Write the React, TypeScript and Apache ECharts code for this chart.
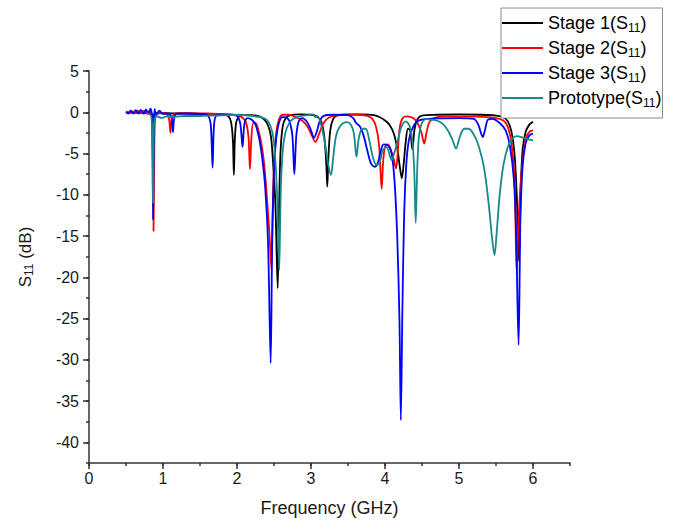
import React, { useEffect, useRef } from 'react';
import * as echarts from 'echarts';

// ---------- data ----------
const seriesNames = ['Stage 1', 'Stage 2', 'Stage 3', 'Prototype'];
const xMajorTicks = [0, 1, 2, 3, 4, 5, 6];
const yMajorTicks = [5, 0, -5, -10, -15, -20, -25, -30, -35, -40];

// [frequency GHz, S11 dB]
const stage1 = [
  [0.5, -0.02], [0.6, -0.05], [0.7, -0.08], [0.8, -0.1], [0.85, -0.25], [0.865, -1.5], [0.875, -0.4],
  [0.9, -0.12], [1.0, -0.12], [1.2, -0.15], [1.4, -0.18], [1.6, -0.2], [1.8, -0.25], [1.88, -0.45],
  [1.92, -1.2], [1.945, -3.5], [1.958, -7.6], [1.97, -3.5], [1.99, -1.2], [2.03, -0.5], [2.1, -0.35],
  [2.2, -0.35], [2.3, -0.5], [2.36, -0.8], [2.42, -1.6], [2.46, -3.0], [2.49, -6.5], [2.52, -11.5],
  [2.55, -21.3], [2.57, -11], [2.59, -4.5], [2.62, -1.6], [2.66, -0.7], [2.72, -0.35], [2.85, -0.25],
  [3.0, -0.3], [3.08, -0.5], [3.14, -1.2], [3.18, -3.0], [3.205, -6], [3.22, -9.0], [3.235, -5.5],
  [3.26, -2.2], [3.3, -0.8], [3.36, -0.35], [3.5, -0.25], [3.7, -0.25], [3.85, -0.35], [3.93, -0.6],
  [4.0, -1.0], [4.06, -1.5], [4.12, -2.6], [4.17, -4.6], [4.2, -6.6], [4.227, -8.0], [4.25, -6.5],
  [4.28, -3.6], [4.31, -2.0], [4.34, -2.2], [4.37, -4.5], [4.4, -2.0], [4.44, -0.8], [4.5, -0.4],
  [4.7, -0.3], [5.0, -0.25], [5.3, -0.3], [5.5, -0.4], [5.6, -0.6], [5.66, -1.1], [5.71, -2.4],
  [5.75, -5], [5.78, -10], [5.81, -18], [5.835, -9], [5.86, -4.5], [5.9, -2.4], [5.95, -1.5], [6.0, -1.15],
];

const stage2 = [
  [0.5, 0.1], [0.54, -0.1], [0.58, 0.15], [0.62, -0.1], [0.66, 0.2], [0.7, -0.1], [0.74, 0.2],
  [0.78, -0.15], [0.82, 0.2], [0.845, -0.3], [0.86, -4], [0.872, -14.4], [0.882, -5], [0.895, -0.6],
  [0.93, -0.1], [1.0, -0.1], [1.06, -0.3], [1.085, -1.0], [1.1, -2.5], [1.115, -1.0], [1.14, -0.3],
  [1.2, -0.1], [1.4, -0.1], [1.6, -0.15], [1.8, -0.2], [1.95, -0.3], [2.05, -0.5], [2.12, -1.2],
  [2.155, -3], [2.175, -6.9], [2.195, -3.0], [2.22, -1.3], [2.25, -1.3], [2.29, -2.2], [2.33, -3.8],
  [2.37, -6.5], [2.41, -11], [2.44, -15], [2.465, -19], [2.48, -13], [2.5, -6.5], [2.53, -2.5],
  [2.57, -0.8], [2.62, -0.3], [2.7, -0.3], [2.8, -0.6], [2.88, -1.0], [2.95, -1.7], [3.01, -2.8],
  [3.06, -3.6], [3.11, -2.6], [3.17, -1.3], [3.25, -0.6], [3.4, -0.35], [3.6, -0.3], [3.75, -0.4],
  [3.83, -0.8], [3.88, -1.8], [3.92, -4], [3.955, -9.3], [3.975, -6], [4.0, -4.2], [4.04, -3.9],
  [4.08, -4.6], [4.12, -5.8], [4.15, -6.8], [4.175, -4.5], [4.2, -1.8], [4.24, -0.7], [4.3, -0.5],
  [4.38, -0.7], [4.44, -1.3], [4.49, -2.4], [4.53, -3.8], [4.56, -2.5], [4.6, -1.2], [4.66, -0.7],
  [4.8, -0.5], [5.0, -0.5], [5.3, -0.55], [5.5, -0.7], [5.6, -1.0], [5.66, -1.8], [5.71, -3.8],
  [5.75, -8], [5.78, -19.5], [5.8, -14], [5.83, -9], [5.87, -5], [5.91, -3], [5.96, -2.3], [6.0, -2.2],
];

const stage3 = [
  [0.5, 0.05], [0.53, -0.15], [0.56, 0.2], [0.6, -0.15], [0.63, 0.25], [0.67, -0.15], [0.7, 0.3],
  [0.74, -0.2], [0.77, 0.35], [0.8, -0.2], [0.83, 0.45], [0.85, -0.3], [0.858, -3], [0.866, -13],
  [0.875, -4], [0.885, 0.4], [0.91, -0.3], [0.95, 0.2], [1.0, -0.2], [1.06, -0.15], [1.11, -0.5],
  [1.125, -1.4], [1.135, -2.4], [1.15, -0.8], [1.18, -0.2], [1.3, -0.15], [1.5, -0.2], [1.6, -0.35],
  [1.645, -1.5], [1.67, -6.7], [1.69, -1.5], [1.73, -0.35], [1.9, -0.3], [2.0, -0.45], [2.045, -1.4],
  [2.075, -4.2], [2.1, -1.4], [2.14, -0.7], [2.2, -0.9], [2.25, -1.5], [2.3, -3.2], [2.34, -5.5],
  [2.38, -9], [2.42, -16], [2.455, -30.4], [2.475, -16], [2.5, -7], [2.53, -3.2], [2.57, -1.2],
  [2.62, -0.6], [2.68, -0.7], [2.72, -1.4], [2.75, -3], [2.775, -7.5], [2.8, -3], [2.83, -1.2],
  [2.88, -0.7], [2.95, -1.2], [3.0, -2.2], [3.04, -3.1], [3.08, -2.3], [3.12, -1.0], [3.18, -0.4],
  [3.3, -0.3], [3.5, -0.35], [3.57, -0.7], [3.61, -1.3], [3.66, -1.7], [3.71, -2.8], [3.76, -4.6],
  [3.81, -6.2], [3.86, -6.6], [3.9, -6.2], [3.94, -4.8], [3.98, -3.9], [4.04, -4.0], [4.09, -5.0],
  [4.13, -8.5], [4.165, -15], [4.195, -25], [4.214, -37.3], [4.235, -24], [4.26, -12], [4.29, -6],
  [4.32, -3.5], [4.36, -2.2], [4.42, -1.2], [4.5, -0.9], [4.7, -0.75], [5.0, -0.7], [5.2, -0.8],
  [5.26, -1.5], [5.3, -2.6], [5.32, -3.0], [5.35, -2.2], [5.39, -0.9], [5.45, -0.8], [5.55, -1.3],
  [5.63, -2.2], [5.69, -4.2], [5.74, -8], [5.77, -14], [5.805, -28.2], [5.83, -13], [5.86, -6.5],
  [5.9, -3.8], [5.95, -2.8], [6.0, -2.6],
];

const prototype = [
  [0.78, -0.15], [0.82, -0.25], [0.845, -0.6], [0.857, -4], [0.864, -11], [0.872, -4], [0.885, -0.9],
  [0.92, -0.5], [0.98, -0.7], [1.05, -0.5], [1.15, -0.55], [1.3, -0.45], [1.5, -0.45], [1.7, -0.4],
  [1.9, -0.35], [2.05, -0.3], [2.2, -0.45], [2.32, -0.6], [2.4, -0.9], [2.45, -1.6], [2.49, -3],
  [2.52, -6], [2.545, -11], [2.57, -19.1], [2.59, -10], [2.615, -5], [2.65, -2.6], [2.7, -1.4],
  [2.76, -0.8], [2.85, -0.5], [2.95, -0.35], [3.03, -0.25], [3.06, -0.6], [3.09, -0.5], [3.13, -1.3],
  [3.18, -3.3], [3.23, -6.2], [3.27, -7.6], [3.3, -5.5], [3.34, -2.8], [3.4, -1.6], [3.48, -1.2],
  [3.54, -1.5], [3.58, -2.6], [3.615, -5.4], [3.645, -3.2], [3.69, -2.0], [3.74, -2.0], [3.79, -3.5],
  [3.84, -5.6], [3.89, -6.4], [3.93, -6.0], [3.97, -4.6], [4.02, -4.2], [4.09, -5.8], [4.13, -4.8],
  [4.17, -3.5], [4.22, -1.8], [4.28, -1.1], [4.33, -1.6], [4.37, -3.5], [4.395, -7], [4.415, -13.4],
  [4.435, -7], [4.46, -2.8], [4.5, -1.3], [4.56, -0.8], [4.62, -0.9], [4.7, -1.0], [4.78, -1.4],
  [4.85, -2.2], [4.91, -3.3], [4.96, -4.4], [5.01, -3.0], [5.07, -2.0], [5.13, -2.0], [5.2, -2.7],
  [5.27, -4.2], [5.34, -6.8], [5.4, -11], [5.45, -15.5], [5.48, -17.3], [5.51, -14.5], [5.55, -10],
  [5.6, -6.4], [5.66, -4.2], [5.72, -3.2], [5.78, -2.9], [5.84, -3.0], [5.9, -3.2], [6.0, -3.4],
];

const seriesData = [stage1, stage2, stage3, prototype];

// ---------- styles ----------
const FONT = "'Liberation Sans', Arial, sans-serif";
const seriesColors = ['#000000', '#ff0000', '#0000ff', '#168a8a'];
const AXIS_COLOR = '#333333';
const TEXT_COLOR = '#1a1a1a';

export default function App() {
  const ref = useRef<HTMLDivElement>(null);

  useEffect(() => {
    document.body.style.margin = '0';
    const chart = echarts.init(ref.current as HTMLDivElement, null, { renderer: 'svg' });

    const baseX = {
      type: 'value',
      min: 0,
      max: 6.5,
      interval: 0.5,
      position: 'bottom',
      splitLine: { show: false },
    };
    const baseY = {
      type: 'value',
      min: -42.5,
      max: 5,
      interval: 2.5,
      position: 'left',
      splitLine: { show: false },
    };

    const option: any = {
      animation: false,
      backgroundColor: '#ffffff',
      grid: { left: 89, right: 107, top: 71, bottom: 59, containLabel: false },
      legend: {
        orient: 'vertical',
        left: 501,
        top: 8,
        padding: [6, 1, 9, 1],
        itemGap: 5,
        itemWidth: 41,
        itemHeight: 2,
        icon: 'rect',
        borderColor: '#8c8c8c',
        borderWidth: 1,
        backgroundColor: '#ffffff',
        data: seriesNames,
        formatter: (name: string) => `{t|${name}(S}{s|11}{t|)}`,
        textStyle: {
          fontFamily: FONT,
          color: '#000',
          rich: {
            t: { fontFamily: FONT, fontSize: 18, lineHeight: 22, color: '#000' },
            s: { fontFamily: FONT, fontSize: 12, lineHeight: 11, verticalAlign: 'bottom', color: '#000' },
          },
        },
      },
      xAxis: [
        {
          ...baseX,
          name: 'Frequency (GHz)',
          nameLocation: 'middle',
          nameGap: 36,
          nameTextStyle: { fontFamily: FONT, fontSize: 18, color: TEXT_COLOR },
          axisLine: { show: true, onZero: false, lineStyle: { color: AXIS_COLOR, width: 1.5 } },
          axisTick: { show: true, inside: false, length: 6, customValues: xMajorTicks, lineStyle: { color: AXIS_COLOR, width: 1.5 } },
          axisLabel: {
            show: true,
            customValues: xMajorTicks,
            margin: 7,
            fontFamily: FONT,
            fontSize: 16,
            color: TEXT_COLOR,
            formatter: (v: number) => (Number.isInteger(v) ? String(v) : ''),
          },
        },
        {
          ...baseX,
          axisLine: { show: false, onZero: false },
          axisTick: { show: true, inside: false, length: 3, lineStyle: { color: AXIS_COLOR, width: 1.5 } },
          axisLabel: { show: false },
        },
      ],
      yAxis: [
        {
          ...baseY,
          name: '{t|S}{s|11}{t| (dB)}',
          nameLocation: 'middle',
          nameRotate: 90,
          nameGap: 54,
          nameTextStyle: {
            fontFamily: FONT,
            fontSize: 17,
            color: TEXT_COLOR,
            padding: [0, 0, 0, 20],
            rich: {
              t: { fontFamily: FONT, fontSize: 17, lineHeight: 20, color: TEXT_COLOR },
              s: { fontFamily: FONT, fontSize: 12, lineHeight: 11, verticalAlign: 'bottom', color: TEXT_COLOR },
            },
          },
          axisLine: { show: true, onZero: false, lineStyle: { color: AXIS_COLOR, width: 1.5 } },
          axisTick: { show: true, inside: false, length: 6, customValues: yMajorTicks, lineStyle: { color: AXIS_COLOR, width: 1.5 } },
          axisLabel: {
            show: true,
            customValues: yMajorTicks,
            margin: 10,
            fontFamily: FONT,
            fontSize: 16,
            color: TEXT_COLOR,
            formatter: (v: number) => (v % 5 === 0 ? String(v) : ''),
          },
        },
        {
          ...baseY,
          axisLine: { show: false, onZero: false },
          axisTick: { show: true, inside: false, length: 3, lineStyle: { color: AXIS_COLOR, width: 1.5 } },
          axisLabel: { show: false },
        },
      ],
      series: seriesNames.map((name, i) => ({
        name,
        type: 'line',
        xAxisIndex: 0,
        yAxisIndex: 0,
        data: seriesData[i],
        showSymbol: false,
        symbol: 'none',
        smooth: 0.3,
        lineStyle: { color: seriesColors[i], width: 1.8 },
        itemStyle: { color: seriesColors[i] },
      })),
    };

    chart.setOption(option);
    return () => chart.dispose();
  }, []);

  return (
    <div
      ref={ref}
      style={{ position: 'absolute', left: 0, top: 0, width: 677, height: 522, background: '#fff' }}
    />
  );
}
